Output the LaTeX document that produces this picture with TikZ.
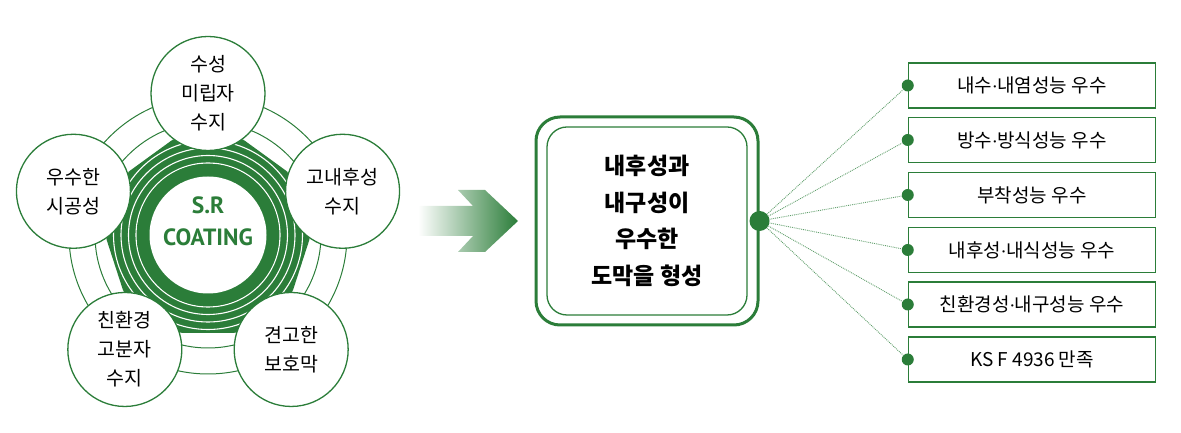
\documentclass[tikz,border=0pt]{standalone}
\usepackage{fontspec}
\setmainfont{Noto Sans CJK KR}
\newfontfamily\latinsans{PT Sans}
\newcommand{\mdot}{{\latinsans ·}}
\usetikzlibrary{shapes.geometric}
\definecolor{srgreen}{RGB}{43,125,57}
\pgfdeclareradialshading{ringglow}{\pgfpoint{0bp}{0bp}}{color(0bp)=(srgreen); color(43bp)=(srgreen); color(45bp)=(srgreen!70!white); color(48bp)=(srgreen!55!white); color(50bp)=(srgreen!65!white)}
\tikzset{
  sat/.style={circle, draw=srgreen, line width=1.3pt, fill=white, minimum size=114pt, inner sep=0pt, align=center, font=\fontsize{19.5}{29}\selectfont},
  merit/.style={draw=srgreen, line width=1.5pt, minimum width=247pt, minimum height=45pt, inner sep=0pt, font=\fontsize{19}{22}\selectfont},
  pin/.style={circle, fill=srgreen, inner sep=0pt, minimum size=12pt},
  link/.style={srgreen!75!white, densely dotted, line width=0.9pt}
}
\begin{document}
\begin{tikzpicture}[x=1pt,y=1pt]
  \useasboundingbox (0,0) rectangle (1181,433);
  \coordinate (c) at (208,198);
  \draw[srgreen, line width=1pt] (c) circle (139) (c) circle (113);
  \node[regular polygon, regular polygon sides=5, minimum size=242pt, inner sep=0pt, fill=srgreen,
    path picture={\foreach \r in {72,79.5,...,120} \draw[white, line width=1.1pt] (c) circle (\r);}] (wheel) at (c) {};
  \shade[shading=ringglow] (c) circle (71);
  \node[circle, fill=white, minimum size=117pt, inner sep=0pt] (core) at (c) {};
  \node[align=center, text=srgreen, font=\latinsans\bfseries\fontsize{23.5}{32}\selectfont] (srtext) at ([yshift=14pt]core.center) {S.R\\COATING};
  \foreach \a/\n/\t in {90/resin/{수성\\미립자\\수지}, 18/weather/{고내후성\\수지}, 306/film/{견고한\\보호막}, 234/eco/{친환경\\고분자\\수지}, 162/work/{우수한\\시공성}}
    \node[sat] (\n) at ([shift={(\a:141.5)}]c) {\t};
  \shade[left color=white, right color=srgreen] (418,227) -- (473,227) -- (458,243) -- (485,243) -- (518,212) -- (485,181) -- (458,181) -- (473,197) -- (418,197) -- cycle;
  \node[draw=srgreen, line width=3pt, rounded corners=24pt, minimum width=222pt, minimum height=208pt] (frame) at (647,212) {};
  \node[draw=srgreen, line width=1.3pt, rounded corners=20pt, minimum width=200pt, minimum height=188pt, align=center, font=\bfseries\fontsize{23}{36.5}\selectfont] (result) at (frame.center) {내후성과\\내구성이\\우수한\\도막을 형성};
  \node[pin, minimum size=20pt] (hub) at (frame.east) {};
  \foreach \y/\n/\t in {347.5/m1/{내수\mdot 내염성능 우수}, 293/m2/{방수\mdot 방식성능 우수}, 238/m3/{부착성능 우수}, 183/m4/{내후성\mdot 내식성능 우수}, 128.5/m5/{친환경성\mdot 내구성능 우수}, 73.5/m6/{KS F 4936 만족}} {
    \node[merit] (\n) at (1032,\y) {\t};
    \node[pin] (dot\n) at (\n.west) {};
    \draw[link] (hub) -- (dot\n);
  }
\end{tikzpicture}
\end{document}
